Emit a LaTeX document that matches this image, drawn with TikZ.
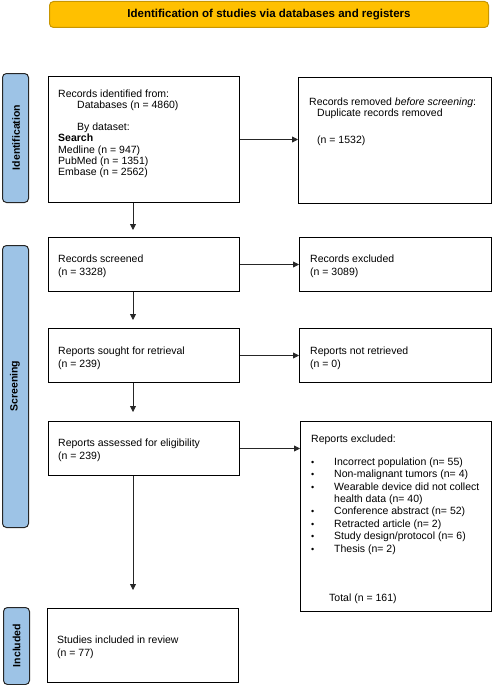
\documentclass[tikz,border=0pt]{standalone}
\usepackage{fontspec}
\setmainfont{Liberation Sans}
\usetikzlibrary{arrows.meta,calc}
\definecolor{hdrfill}{HTML}{FFC000}
\definecolor{hdrline}{HTML}{C89600}
\definecolor{barfill}{HTML}{9DC3E6}
\begin{document}
\begin{tikzpicture}[x=1pt,y=-1pt,
  box/.style={draw=black,line width=1pt,rectangle,inner sep=0pt,anchor=north west},
  bar/.style={draw=black!85,fill=barfill,line width=1pt,rounded corners=4pt,rectangle,inner sep=0pt,anchor=north west},
  txt/.style={anchor=base west,inner sep=0pt,align=left,font=\fontsize{10.5}{13}\selectfont},
  bartxt/.style={rotate=90,inner sep=0pt,font=\fontsize{10.5}{13}\selectfont\bfseries},
  arr/.style={draw=black!85,line width=0.8pt,-{Triangle[length=6pt,width=6pt]}}]
\useasboundingbox (0,0) rectangle (492,685);
% header
\node[draw=hdrline,fill=hdrfill,line width=1pt,rounded corners=4pt,anchor=north west,minimum width=439pt,minimum height=26pt,inner sep=0pt,font=\fontsize{11.5}{13}\selectfont\bfseries] (hdr) at (49,1) {Identification of studies via databases and registers};
% side bars
\node[bar,minimum width=26pt,minimum height=129pt] (barid) at (2,73) {};
\node[bartxt] (baridt) at (16,137.5) {Identification};
\node[bar,minimum width=26pt,minimum height=282pt] (barsc) at (2,245) {};
\node[bartxt] (barsct) at (15,386) {Screening};
\node[bar,minimum width=26pt,minimum height=77pt] (barin) at (3,607) {};
\node[bartxt] (barint) at (16.5,645.5) {Included};
% boxes
\node[box,minimum width=191pt,minimum height=126pt] (b1) at (48,76) {};
\node[box,minimum width=193pt,minimum height=126pt] (b2) at (298,77) {};
\node[box,minimum width=191pt,minimum height=54pt] (b3) at (48,237) {};
\node[box,minimum width=192pt,minimum height=54pt] (b4) at (299,237) {};
\node[box,minimum width=191pt,minimum height=54pt] (b5) at (48,328) {};
\node[box,minimum width=192pt,minimum height=54pt] (b6) at (299,328) {};
\node[box,minimum width=191pt,minimum height=54pt] (b7) at (48,421) {};
\node[box,minimum width=191pt,minimum height=190pt] (b8) at (300,421) {};
\node[box,minimum width=191pt,minimum height=74pt] (b9) at (47,608) {};
% texts (anchor = baseline of the last line)
\node[txt,font=\fontsize{10.5}{11.2}\selectfont] (t1) at (58,175.4) {Records identified from:\\
\hspace*{19pt}Databases (n = 4860)\\[11.2pt]
\hspace*{19pt}By dataset:\\
\textbf{Search}\\
Medline (n = 947)\\
PubMed (n = 1351)\\
Embase (n = 2562)};
\node[txt,font=\fontsize{10.5}{11}\selectfont] (t2) at (309,116) {Records removed \emph{before screening}:\\
\hspace*{8pt}Duplicate records removed};
\node[txt] (t2b) at (317,143) {(n = 1532)};
\node[txt] (t3) at (58,275) {Records screened\\(n = 3328)};
\node[txt] (t4) at (310,275) {Records excluded\\(n = 3089)};
\node[txt] (t5) at (58,367) {Reports sought for retrieval\\(n = 239)};
\node[txt] (t6) at (310,367) {Reports not retrieved\\(n = 0)};
\node[txt] (t7) at (58,459) {Reports assessed for eligibility\\(n = 239)};
\node[txt] (t8) at (311,442) {Reports excluded:};
\node[txt,font=\fontsize{10.5}{12.4}\selectfont] (t8b) at (311,552) {\makebox[23pt][l]{\small•}Incorrect population (n= 55)\\
\makebox[23pt][l]{\small•}Non-malignant tumors (n= 4)\\
\makebox[23pt][l]{\small•}Wearable device did not collect\\
\hspace*{23pt}health data (n= 40)\\
\makebox[23pt][l]{\small•}Conference abstract (n= 52)\\
\makebox[23pt][l]{\small•}Retracted article (n= 2)\\
\makebox[23pt][l]{\small•}Study design/protocol (n= 6)\\
\makebox[23pt][l]{\small•}Thesis (n= 2)};
\node[txt] (t8c) at (329,601) {Total (n = 161)};
\node[txt] (t9) at (57,656) {Studies included in review\\(n = 77)};
% connectors
\coordinate (cx) at (133,0);
\draw[arr] (b1.east) -- (b2.west |- b1.east);
\draw[arr] (b3.east) -- (b4.west);
\draw[arr] (b5.east) -- (b6.west);
\draw[arr] (b7.east) -- (b8.west |- b7.east);
\draw[arr,shorten >=7pt] (b1.south -| cx) -- (b3.north -| cx);
\draw[arr,shorten >=8pt] (b3.south -| cx) -- (b5.north -| cx);
\draw[arr,shorten >=9pt] (b5.south -| cx) -- (b7.north -| cx);
\draw[arr,shorten >=18pt] (b7.south -| cx) -- (b9.north -| cx);
\end{tikzpicture}
\end{document}
